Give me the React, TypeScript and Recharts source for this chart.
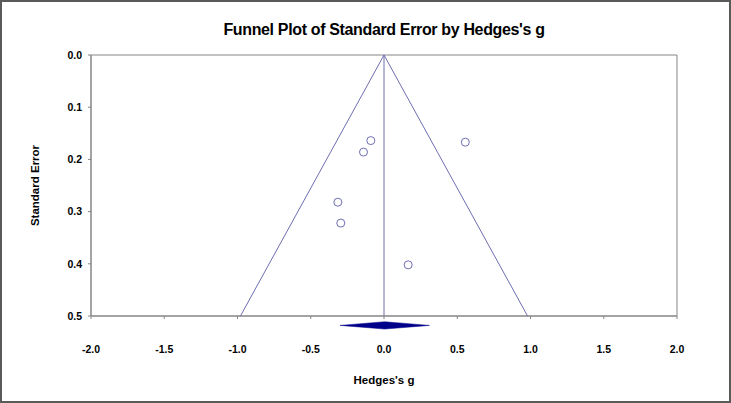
import {
  ScatterChart, Scatter, XAxis, YAxis,
  ReferenceLine, ReferenceArea, Label,
} from 'recharts'

// studies (Hedges's g vs standard error)
const studyG  = [-0.09, -0.14, 0.555, -0.315, -0.295, 0.165]
const studySE = [0.164, 0.186, 0.167, 0.282, 0.322, 0.402]

// funnel edges (pseudo 95% limits) and pooled estimate
const funnelG  = [-0.98, 0.0, 0.98]
const funnelSE = [0.5, 0.0, 0.5]
const pooledG  = 0.0
const ciLow    = -0.30
const ciHigh   = 0.31
const diamondSE = [0.511, 0.525]

const xTicks = [-2.0, -1.5, -1.0, -0.5, 0.0, 0.5, 1.0, 1.5, 2.0]
const yTicks = [0.0, 0.1, 0.2, 0.3, 0.4, 0.5]

const LINE  = '#6e6eb2'
const FRAME = '#858585'
const FONT  = "'Liberation Sans', Arial, sans-serif"

const studies = studyG.map((g, i) => ({ g, se: studySE[i] }))
const funnel  = funnelG.map((g, i) => ({ g, se: funnelSE[i] }))

const tickStyle = { fontSize: 10.5, fontWeight: 700, fill: '#000', fontFamily: FONT }
const labelStyle = { fontSize: 11.5, fontWeight: 700, fill: '#000', fontFamily: FONT }

const Diamond = (p: any) => {
  const { x, y, width, height } = p
  const pts = [
    [x, y + height / 2],
    [x + width / 2, y],
    [x + width, y + height / 2],
    [x + width / 2, y + height],
  ].map(q => q.join(',')).join(' ')
  return <polygon points={pts} fill="#00008b" stroke="#00008b" strokeWidth={0.5} />
}

export default function App() {
  return (
    <div style={{ position: 'absolute', left: 0, top: 0, width: 731, height: 403, background: '#fff' }}>
      <div style={{
        position: 'absolute', left: 91, width: 586, top: 21, textAlign: 'center',
        fontFamily: FONT, fontWeight: 700, fontSize: 16, letterSpacing: -0.35, color: '#000',
      }}>
        Funnel Plot of Standard Error by Hedges's g
      </div>
      <ScatterChart width={731} height={403} margin={{ top: 55, right: 54, bottom: 0, left: 0 }}>
        <XAxis
          type="number" dataKey="g" domain={[-2, 2]} ticks={xTicks}
          tickFormatter={(v: number) => v.toFixed(1)}
          height={87} tickSize={3} tickMargin={27}
          tick={tickStyle} stroke={FRAME} axisLine={{ stroke: FRAME }}
        >
          <Label value="Hedges's g" position="insideBottom" offset={19} style={labelStyle} />
        </XAxis>
        <YAxis
          type="number" dataKey="se" domain={[0, 0.5]} ticks={yTicks} reversed
          tickFormatter={(v: number) => v.toFixed(1)}
          width={91} tickSize={3} tickMargin={6}
          tick={tickStyle} stroke={FRAME} axisLine={{ stroke: FRAME }}
        >
          <Label value="Standard Error" angle={-90} position="insideLeft" offset={35}
            style={{ ...labelStyle, textAnchor: 'middle' }} />
        </YAxis>
        <ReferenceArea x1={-2} x2={2} y1={0} y2={0.5} fill="none" fillOpacity={0} stroke={FRAME} strokeWidth={1} ifOverflow="visible" />
        <ReferenceLine x={pooledG} stroke={LINE} strokeWidth={1} />
        <Scatter
          data={funnel} line={{ stroke: LINE, strokeWidth: 1 }} lineJointType="linear"
          shape={() => <g />} isAnimationActive={false}
        />
        <Scatter
          data={studies}
          shape={(p: any) => <circle cx={p.cx} cy={p.cy} r={4} fill="#fff" stroke={LINE} strokeWidth={1} />}
          isAnimationActive={false}
        />
        <ReferenceArea
          x1={ciLow} x2={ciHigh} y1={diamondSE[0]} y2={diamondSE[1]}
          ifOverflow="visible" shape={Diamond}
        />
      </ScatterChart>
      <div style={{
        position: 'absolute', left: 0, top: 0, width: 731, height: 403, boxSizing: 'border-box',
        border: '2px solid #5a5a5a', pointerEvents: 'none',
      }} />
    </div>
  )
}
